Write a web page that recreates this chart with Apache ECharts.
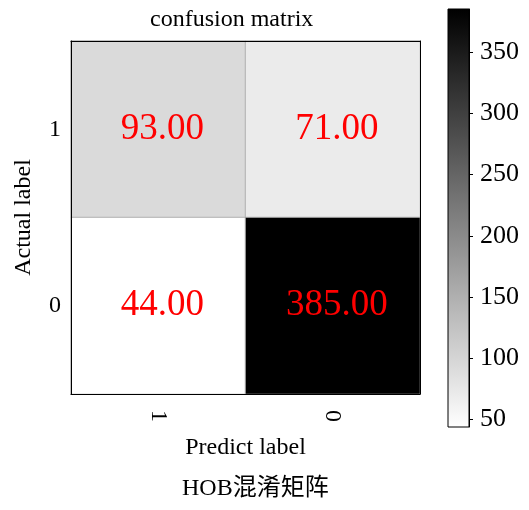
<!DOCTYPE html>
<html>
<head>
<meta charset="utf-8">
<title>confusion matrix</title>
<script src="https://cdn.jsdelivr.net/npm/echarts@6/dist/echarts.min.js"></script>
<style>
  html, body { margin: 0; padding: 0; background: #fff; }
  #chart { width: 529px; height: 510px; }
</style>
</head>
<body>
<div id="chart"></div>
<script>
// 数据
var predictLabels = ['1', '0'];          // x 轴 (Predict label)
var actualLabels = ['0', '1'];           // y 轴，自下而上 (Actual label)
var rowActual1 = [93, 71];               // Actual 1: predict 1, predict 0
var rowActual0 = [44, 385];              // Actual 0: predict 1, predict 0
var colorbarTicks = [50, 100, 150, 200, 250, 300, 350];
var valueMin = 44;
var valueMax = 385;

var serif = "'Liberation Serif', 'Times New Roman', 'Noto Sans CJK SC', serif";

// 组装热力图数据 [x, y, value]
var cells = [];
predictLabels.forEach(function (p, i) {
  cells.push([i, actualLabels.indexOf('1'), rowActual1[i]]);
  cells.push([i, actualLabels.indexOf('0'), rowActual0[i]]);
});

var chart = echarts.init(document.getElementById('chart'));
chart.setOption({
  backgroundColor: '#fff',
  animation: false,
  textStyle: { fontFamily: serif },
  title: [
    {
      text: 'confusion matrix',
      left: 150, top: 8, padding: 0,
      textStyle: { fontFamily: serif, fontSize: 24, fontWeight: 'normal', color: '#000' }
    },
    {
      text: 'HOB混淆矩阵',
      left: 182, top: 477, padding: 0,
      textStyle: { fontFamily: serif, fontSize: 24, fontWeight: 'normal', color: '#000' }
    }
  ],
  grid: [
    { left: 71, top: 41, width: 349, height: 353 },
    {
      left: 448, top: 9, width: 21, height: 418,
      show: true, borderColor: '#000', borderWidth: 1,
      backgroundColor: new echarts.graphic.LinearGradient(0, 0, 0, 1, [
        { offset: 0, color: '#000000' },
        { offset: 1, color: '#ffffff' }
      ])
    }
  ],
  xAxis: [
    {
      type: 'category', data: predictLabels, gridIndex: 0, z: 5,
      name: 'Predict label', nameLocation: 'middle', nameGap: 42,
      nameTextStyle: { fontFamily: serif, fontSize: 24, color: '#000' },
      axisLine: { show: true, lineStyle: { color: '#000', width: 1 } },
      axisTick: { show: false },
      axisLabel: { rotate: -90, margin: 16, fontFamily: serif, fontSize: 24, color: '#000' },
      splitLine: { show: false }
    },
    {
      type: 'category', data: predictLabels, gridIndex: 0, position: 'top', z: 5,
      axisLine: { show: true, lineStyle: { color: '#000', width: 1 } },
      axisTick: { show: false }, axisLabel: { show: false }
    },
    { type: 'value', gridIndex: 1, show: false, min: 0, max: 1 }
  ],
  yAxis: [
    {
      type: 'category', data: actualLabels, gridIndex: 0, z: 5,
      name: 'Actual label', nameLocation: 'middle', nameGap: 35, nameRotate: 90,
      nameTextStyle: { fontFamily: serif, fontSize: 24, color: '#000' },
      axisLine: { show: true, lineStyle: { color: '#000', width: 1 } },
      axisTick: { show: false },
      axisLabel: { margin: 10, fontFamily: serif, fontSize: 24, color: '#000' },
      splitLine: { show: false }
    },
    {
      type: 'category', data: actualLabels, gridIndex: 0, position: 'right', z: 5,
      axisLine: { show: true, lineStyle: { color: '#000', width: 1 } },
      axisTick: { show: false }, axisLabel: { show: false }
    },
    {
      // 色条刻度
      type: 'value', gridIndex: 1, position: 'right', min: valueMin, max: valueMax, z: 5,
      axisLine: { show: true, onZero: false, lineStyle: { color: '#000', width: 1 } },
      axisTick: { show: true, inside: false, length: 4, customValues: colorbarTicks,
                  lineStyle: { color: '#000', width: 1 } },
      axisLabel: { margin: 11, customValues: colorbarTicks, fontFamily: serif, fontSize: 26, color: '#000' },
      splitLine: { show: false }
    }
  ],
  visualMap: {
    show: false, type: 'continuous', seriesIndex: 0,
    min: valueMin, max: valueMax,
    inRange: { color: ['#ffffff', '#000000'] }
  },
  series: [{
    type: 'heatmap', xAxisIndex: 0, yAxisIndex: 0,
    data: cells,
    itemStyle: { borderColor: '#b0b0b0', borderWidth: 1 },
    label: {
      show: true, color: '#ff0000', fontFamily: serif, fontSize: 37, offset: [4, 0],
      formatter: function (p) { return p.value[2].toFixed(2); }
    },
    emphasis: { disabled: true }
  }]
});
</script>
</body>
</html>
